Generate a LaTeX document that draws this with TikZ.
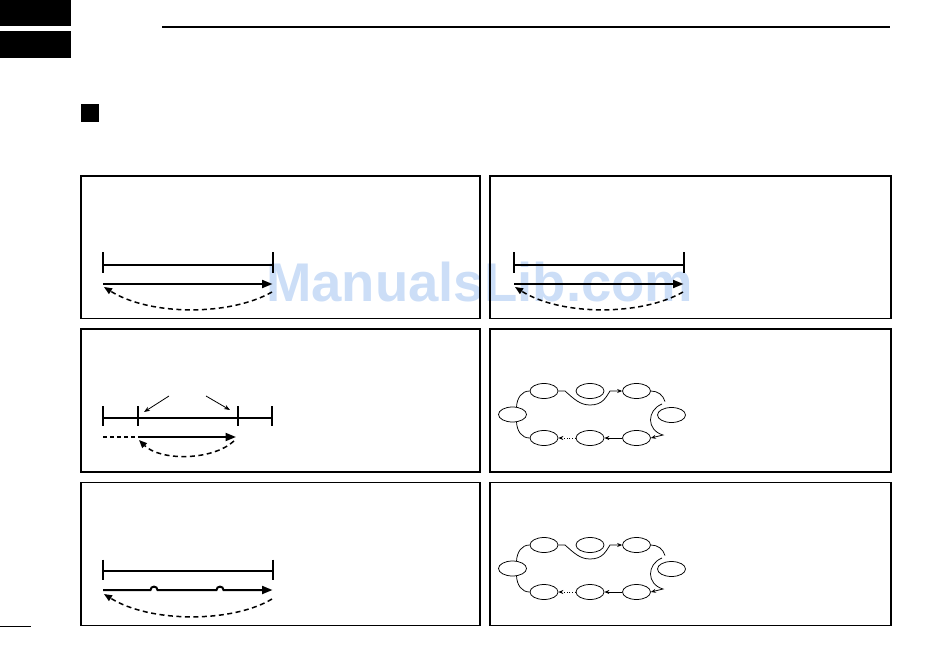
\documentclass[tikz,border=0pt]{standalone}
\usepackage{fontspec}
\newfontfamily\wmfont{Liberation Sans}
\usetikzlibrary{arrows.meta,shapes.geometric}
\definecolor{wmblue}{RGB}{204,222,247}

\begin{document}
\begin{tikzpicture}[x=1pt, y=-1pt,
    panel/.style={draw=black, line width=1.2pt},
    bar/.style={line width=2pt},
    sweep/.style={line width=2pt, -{Triangle[length=10.5pt, width=8pt]}},
    back/.style={line width=1.5pt, dash pattern=on 5pt off 3.5pt, -{Triangle[length=8pt, width=6.5pt]}},
    chan/.style={ellipse, draw, line width=0.75pt, minimum width=28pt, minimum height=15pt, inner sep=0pt},
    link/.style={line width=0.75pt},
    tip/.style={-{Stealth[length=5pt, width=4pt]}}]
    \useasboundingbox (0,0) rectangle (950,671);
    % Watermark (under the drawing)
    \node[anchor=base west, inner sep=0pt, text=wmblue,
      font=\wmfont\bfseries\fontsize{54.5}{60}\selectfont] (wm) at (266,301) {ManualsLib.com};
    % Header tabs, rule and section mark
    \fill (0,0) rectangle (71,26.5);
    \fill (0,31.5) rectangle (71,58.5);
    \draw[line width=2.8pt] (162,27) -- (890,27);
    \fill (81,104) rectangle (99,122);
    \draw[line width=1pt] (0,626) -- (31,626);
    % Panel frames: 2 columns x 3 rows
    \foreach \px/\qx in {81/480, 490/891}
      \foreach \py/\qy in {176/318.5, 329/472, 482.5/625.5}
        \draw[panel] (\px,\py) rectangle (\qx,\qy);
    % Top row: full span, sweep up then return
    \foreach \dx/\s in {0/a, 411/b} {
      \draw[bar] (103+\dx,252) -- (103+\dx,273);
      \draw[bar] (273+\dx,252) -- (273+\dx,273);
      \draw[bar] (103+\dx,264.5) -- (273+\dx,264.5);
      \coordinate (lo\s) at (103+\dx,284);
      \coordinate (hi\s) at (272.5+\dx,284);
      \coordinate (rs\s) at (272+\dx,292);
      \coordinate (re\s) at (104+\dx,287);
      \draw[sweep] (lo\s) -- (hi\s);
      \draw[back] (rs\s) .. controls (230+\dx,316) and (150+\dx,316) .. (re\s);
    }
    % Middle left: programmed edges inside the span
    \foreach \x in {103,138,238,272}
      \draw[bar] (\x,406) -- (\x,426);
    \draw[bar] (103,417.5) -- (272,417.5);
    \coordinate (pl) at (169,396);
    \coordinate (pr) at (206,396);
    \draw[line width=0.8pt, -{Stealth[length=6pt, width=4.5pt]}] (pl) -- (144,412);
    \draw[line width=0.8pt, -{Stealth[length=6pt, width=4.5pt]}] (pr) -- (230,410);
    \coordinate (ls) at (103,437);
    \coordinate (lw) at (138,437);
    \coordinate (up) at (236,437);
    \draw[line width=1.5pt, dash pattern=on 4pt off 3pt] (ls) -- (lw);
    \draw[sweep] (lw) -- (up);
    \coordinate (rt) at (234,441);
    \coordinate (rb) at (139,440);
    \draw[back] (rt) .. controls (212,461) and (160,461) .. (rb);
    % Bottom left: sweep with two skipped points
    \draw[bar] (103,559.5) -- (103,580);
    \draw[bar] (273,559.5) -- (273,580);
    \draw[bar] (103,570.5) -- (273,570.5);
    \coordinate (fs) at (103,590);
    \coordinate (fe) at (272.5,590);
    \draw[sweep] (fs) -- (150.5,590) .. controls (150.5,585.5) and (157.5,585.5) .. (157.5,590)
      -- (216.5,590) .. controls (216.5,585.5) and (223.5,585.5) .. (223.5,590) -- (fe);
    \coordinate (gs) at (272,599);
    \coordinate (ge) at (104,594);
    \draw[back] (gs) .. controls (232,623) and (150,623) .. (ge);
    % Right middle and bottom: channel rings
    \foreach \dy/\s in {0/a, 154/b} {
      \begin{scope}[shift={(0,\dy)}]
        \node[chan] (\s1) at (544,391) {};
        \node[chan] (\s2) at (590,391) {};
        \node[chan] (\s3) at (636.5,391) {};
        \node[chan] (\s4) at (512.5,414.5) {};
        \node[chan] (\s5) at (671.5,415) {};
        \node[chan] (\s6) at (544,438) {};
        \node[chan] (\s7) at (590,438) {};
        \node[chan] (\s8) at (636.5,438) {};
        \draw[link] (\s4.62) .. controls +(0.5,-9) and +(-8,0) .. (\s1.west);
        \draw[link] (\s4.-62) .. controls +(0.5,9) and +(-8,0) .. (\s6.west);
        % skip around channel 2
        \draw[link, tip] (\s1.east) -- (565,391) .. controls (574,399) and (580,405) .. (590,405)
          .. controls (603,405) and (606,397) .. (610,391) -- (\s3.west);
        % skip around channel 5
        \draw[link] (\s3.east) .. controls (658,391) and (663,395) .. (665,401.5);
        \draw[link, tip] (662,404) .. controls (647,410) and (646,430) .. (663,435) -- (\s8.east);
        \draw[link, tip] (\s8.west) -- (\s7.east);
        \draw[link, tip, dotted] (\s7.west) -- (\s6.east);
      \end{scope}
    }
\end{tikzpicture}
\end{document}
